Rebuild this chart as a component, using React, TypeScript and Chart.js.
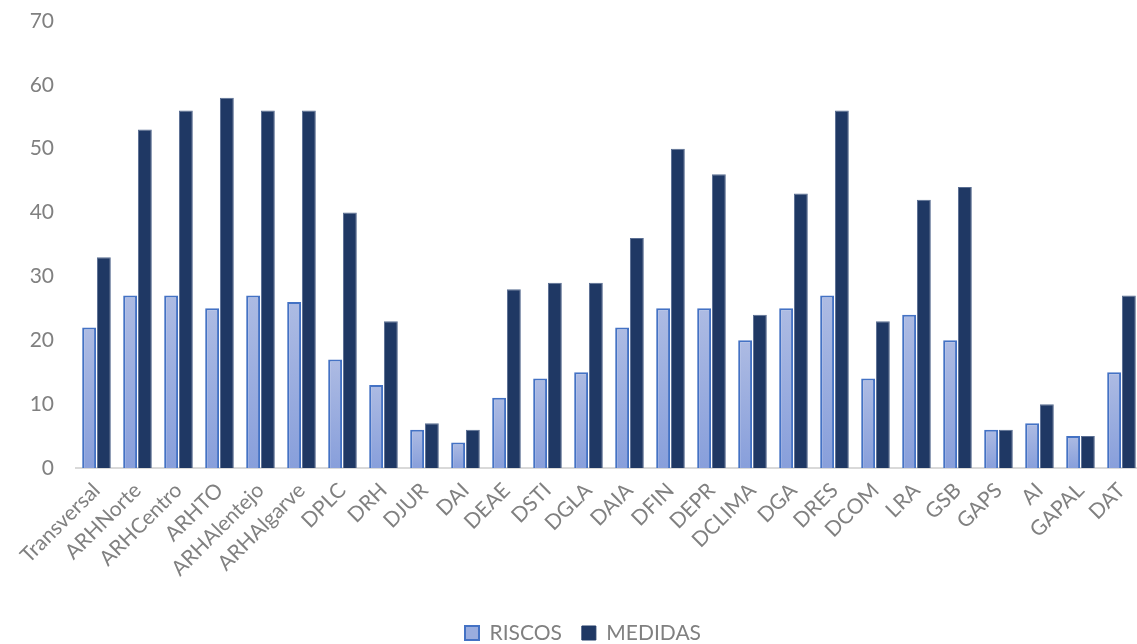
import React, { useEffect, useRef } from "react";
import { Chart, registerables } from "chart.js";

Chart.register(...registerables);

const categories = [
  "Transversal", "ARHNorte", "ARHCentro", "ARHTO", "ARHAlentejo", "ARHAlgarve",
  "DPLC", "DRH", "DJUR", "DAI", "DEAE", "DSTI", "DGLA", "DAIA", "DFIN", "DEPR",
  "DCLIMA", "DGA", "DRES", "DCOM", "LRA", "GSB", "GAPS", "AI", "GAPAL", "DAT",
];
const riscos = [22, 27, 27, 25, 27, 26, 17, 13, 6, 4, 11, 14, 15, 22, 25, 25, 20, 25, 27, 14, 24, 20, 6, 7, 5, 15];
const medidas = [33, 53, 56, 58, 56, 56, 40, 23, 7, 6, 28, 29, 29, 36, 50, 46, 24, 43, 56, 23, 42, 44, 6, 10, 5, 27];
const yTicks = [0, 10, 20, 30, 40, 50, 60, 70];

const FONT = "Lato, 'Open Sans', sans-serif";
const W = 1142;
const H = 644;

export default function App() {
  const ref = useRef<HTMLCanvasElement | null>(null);

  useEffect(() => {
    if (!ref.current) return;
    const riscosFill = (ctx: any) => {
      const chart = ctx.chart;
      const y = chart.scales?.y;
      if (!y || ctx.dataIndex === undefined || ctx.type !== "data") return "#9aadde";
      const v = riscos[ctx.dataIndex] ?? 0;
      const top = y.getPixelForValue(v);
      const bot = y.getPixelForValue(0);
      if (!isFinite(top) || !isFinite(bot) || top === bot) return "#9aadde";
      const g = chart.ctx.createLinearGradient(0, top, 0, bot);
      g.addColorStop(0, "#adbbe3");
      g.addColorStop(1, "#889fdb");
      return g;
    };
    const legendShift = {
      id: "legendShift",
      afterLayout(chart: any) {
        const lg = chart.legend;
        if (!lg) return;
        const dx = 12;
        const dy = H - 16 - (lg.top + lg.height / 2);
        lg.left += dx;
        lg.right += dx;
        lg.top += dy;
        lg.bottom += dy;
        if (lg.legendHitBoxes) {
          lg.legendHitBoxes.forEach((b: any) => { b.left += dx; b.top += dy; });
        }
      },
    };
    const chart = new Chart(ref.current, {
      type: "bar",
      data: {
        labels: categories,
        datasets: [
          {
            label: "RISCOS",
            data: riscos,
            backgroundColor: riscosFill as any,
            borderColor: "#4472c4",
            borderWidth: 2,
            borderSkipped: "bottom",
            categoryPercentage: 0.72,
            barPercentage: 0.94,
          },
          {
            label: "MEDIDAS",
            data: medidas,
            backgroundColor: "#1f3864",
            borderColor: "#5a6e92",
            borderWidth: 1,
            borderSkipped: "bottom",
            categoryPercentage: 0.72,
            barPercentage: 0.94,
          },
        ],
      },
      options: {
        animation: false,
        responsive: false,
        maintainAspectRatio: false,
        layout: { autoPadding: false, padding: { top: 21, right: 0, left: 0, bottom: 0 } },
        plugins: {
          tooltip: { enabled: false },
          legend: {
            position: "bottom",
            labels: {
              font: { family: FONT, size: 21 },
              color: "#808080",
              boxWidth: 14,
              boxHeight: 14,
              padding: 20,
              generateLabels: () => [
                { text: "RISCOS", fillStyle: "#9aadde", strokeStyle: "#4472c4", lineWidth: 2, fontColor: "#808080", datasetIndex: 0 } as any,
                { text: "MEDIDAS", fillStyle: "#1f3864", strokeStyle: "#1f3864", lineWidth: 1, fontColor: "#808080", datasetIndex: 1 } as any,
              ],
            },
          },
        },
        scales: {
          x: {
            grid: { display: false, drawTicks: false },
            border: { color: "#d9d9d9", width: 2 },
            ticks: {
              font: { family: FONT, size: 21 },
              color: "#808080",
              maxRotation: 45,
              minRotation: 45,
              autoSkip: false,
              padding: 10,
            },
            afterFit: (s: any) => { s.height = 125; s.paddingLeft = 0; s.paddingRight = 0; },
          },
          y: {
            min: 0,
            max: 70,
            afterBuildTicks: (s: any) => { s.ticks = yTicks.map((v) => ({ value: v })); },
            grid: { display: false, drawTicks: false },
            border: { display: false },
            ticks: {
              font: { family: FONT, size: 21 },
              color: "#808080",
              padding: 22,
            },
            afterFit: (s: any) => { s.width = 76; s.paddingTop = 0; s.paddingBottom = 0; },
          },
        },
      },
      plugins: [legendShift],
    });
    return () => chart.destroy();
  }, []);

  return (
    <div style={{ position: "fixed", left: 0, top: 0, width: 1137, height: 644, overflow: "hidden", background: "#fff" }}>
      <canvas ref={ref} width={W} height={H} style={{ display: "block", width: W, height: H }} />
    </div>
  );
}
